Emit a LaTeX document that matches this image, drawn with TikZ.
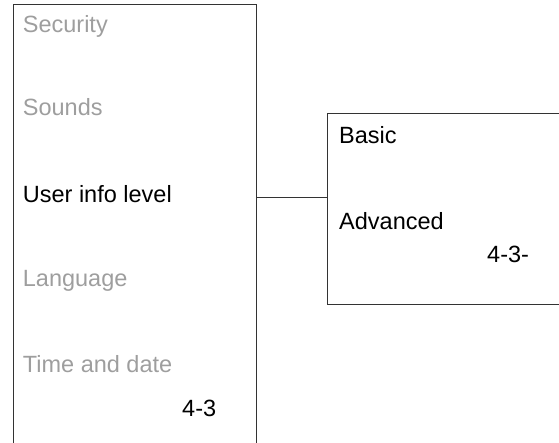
\documentclass[tikz,border=0pt]{standalone}
\usepackage{fontspec}
\setmainfont{Liberation Sans}
\usetikzlibrary{positioning}

\begin{document}
\begin{tikzpicture}[x=1pt,y=-1pt,
  every node/.style={font=\fontsize{23.5}{28}\selectfont,inner sep=0pt,anchor=base west},
  greyed/.style={text=black!38},
  boxline/.style={draw=black!80,line width=1.1pt}]
  \useasboundingbox (0,0) rectangle (559,443);
  \clip (0,0) rectangle (559,443);
  % menu frames (cut off by the page edge)
  \node[boxline,anchor=north west,minimum width=243.3pt,minimum height=480pt] (menu) at (12.7,4) {};
  \node[boxline,anchor=north west,minimum width=260pt,minimum height=191pt] (submenu) at (327,113) {};
  % left menu entries
  \foreach \nm/\txt/\y in {sec/Security/33,snd/Sounds/116,lang/Language/287,time/Time and date/372}{
    \node[greyed] (\nm) at (22.7,\y) {\txt};
  }
  \node (uil) at (22.7,203) {User info level};
  \node (refa) at (182,416) {4-3};
  % sub menu entries
  \node (basic) at (339,144) {Basic};
  \node (adv) at (339,230) {Advanced};
  \node (refb) at (487,263) {4-3-};
  \draw[boxline] ([yshift=-3pt]uil.center -| menu.east) -- ([yshift=-3pt]uil.center -| submenu.west);
\end{tikzpicture}
\end{document}
